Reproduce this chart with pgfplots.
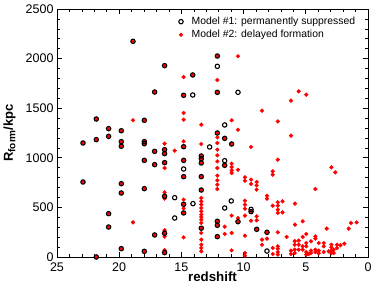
\documentclass[border=0pt]{standalone}
\usepackage{pgfplots}
\pgfplotsset{compat=1.18}
\usepackage{fontspec}
\setmainfont{Liberation Sans}
\begin{document}
\begin{tikzpicture}
\begin{axis}[
 scale only axis, width=311pt, height=248pt,
 xmin=0, xmax=25, ymin=0, ymax=2500, x dir=reverse,
 xtick={0,5,...,25}, ytick={0,500,...,2500},
 minor x tick num=4, minor y tick num=4,
 tick align=inside,
 major tick length=5pt, minor tick length=3pt,
 tick style={black, line width=0.6pt},
 axis line style={line width=0.8pt},
 ticklabel style={font=\fontsize{12.5}{14}\selectfont},
 xticklabel style={yshift=-2.5pt},
 /pgf/number format/assume math mode=true,
 /pgf/number format/1000 sep={},
 xlabel={\textbf{redshift}},
 ylabel={\textbf{R{\fontsize{10}{12}\selectfont\raisebox{-2.6pt}{form}}/kpc}},
 every axis y label/.style={at={(axis description cs:-0.1527,0.5)}, rotate=90, anchor=center, font=\fontsize{13}{15}\selectfont},
 every axis x label/.style={at={(axis description cs:0.5,-0.0806)}, anchor=center, font=\fontsize{13.3}{15}\selectfont},
 legend style={at={(axis description cs:0.391,0.976)}, anchor=north west, draw=none, fill=none,
   font=\fontsize{10.4}{12}\selectfont, inner sep=0pt, row sep=0pt, column sep=6.5pt},
 legend cell align=left,
 clip=false,
]
\addlegendimage{only marks, mark=o, mark size=2.2pt, line width=1.1pt, black}
\addlegendentry{Model \#1: permanently suppressed}
\addlegendimage{only marks, mark=*, mark size=1.9pt, red}
\addlegendentry{Model \#2: delayed formation}

% Model #2 (delayed formation)
\addplot[forget plot, only marks, mark=*, mark size=1.9pt, red] table {
x y
18.89 2174
12.11 2026
16.35 1929
14.09 1835
17.15 1663
14.82 1630
12.11 1660
21.84 1391
17.98 1378
20.85 1294
19.83 1273
12.11 1250
22.91 1149
21.84 1183
20.85 1216
19.83 1163
19.83 1116
17.98 1163
17.98 1142
17.15 1065
16.35 1082
16.35 1042
16.35 951
17.15 931
17.98 974
14.82 1112
14.82 974
14.82 810
13.40 1018
13.40 991
13.40 948
13.40 810
13.40 675
13.40 290
11.52 1196
10.96 1139
11.52 924
22.91 756
19.83 739
19.83 645
17.98 689
20.85 437
20.85 302
19.83 84
17.98 57
21.84 0
17.15 222
16.35 612
16.35 239
16.35 44
14.82 531
14.82 444
12.11 360
12.11 319
12.11 205
10.45 356
9.40 457
8.95 279
8.12 249
18.89 1378
18.89 349
16.35 1142
16.35 897
16.35 652
16.35 588
16.35 270
16.35 205
16.35 70
15.54 1072
14.82 1814
14.82 1452
14.82 1384
14.82 1166
14.82 578
14.82 490
14.82 198
13.40 1334
13.40 1139
13.40 595
13.40 561
13.40 528
13.40 494
13.40 460
13.40 427
13.40 403
13.40 376
13.40 343
13.40 242
13.40 175
13.40 124
13.40 91
13.40 57
12.11 1784
12.11 1206
12.11 1149
12.11 1082
12.11 1025
12.11 964
12.11 897
12.11 820
12.11 773
12.11 729
12.11 685
11.52 306
11.52 232
10.96 1378
10.96 941
10.96 907
10.96 874
10.96 847
10.96 417
10.96 242
10.96 67
10.45 2023
10.45 1283
10.45 880
10.45 393
9.89 803
9.89 769
9.89 568
9.89 528
9.89 487
9.89 417
9.89 215
9.89 40
9.89 13
9.40 1109
9.40 780
9.40 736
9.40 366
8.95 756
8.95 722
8.95 679
8.95 410
8.95 370
8.52 1475
8.52 175
8.52 124
8.12 618
8.12 588
8.12 185
7.66 864
7.66 830
7.66 517
7.66 91
7.66 30
7.25 1367
7.25 981
7.25 551
7.25 517
7.25 477
7.25 444
7.25 249
7.25 108
7.25 84
7.25 50
7.25 24
6.87 561
6.87 450
6.54 202
6.19 1576
6.19 1223
6.19 64
6.19 30
5.87 538
5.87 326
5.89 160
5.89 124
5.89 74
5.89 40
5.57 1670
5.57 165
5.57 124
5.57 74
5.25 360
5.25 202
5.25 108
5.25 74
4.96 1636
4.96 232
4.96 141
4.96 108
4.96 50
4.96 24
4.77 30
4.58 158
4.58 64
4.58 40
4.23 685
4.23 208
4.23 185
4.23 74
4.23 50
3.96 141
3.96 64
3.96 37
3.56 141
3.56 108
3.56 50
3.32 286
3.16 57
2.94 904
2.94 124
2.94 97
2.94 64
2.94 40
2.76 74
2.76 40
2.63 853
2.49 124
2.49 91
2.22 118
1.90 134
1.55 286
1.37 343
0.91 349
};

% Model #1 (permanently suppressed)
\addplot[forget plot, only marks, mark=o, mark size=2.2pt, line width=1.1pt, black] table {
x y
12.11 1922
14.09 1633
10.45 1660
11.52 1331
12.73 1109
11.52 971
14.82 887
15.54 598
14.07 538
15.54 393
10.99 565
11.52 494
9.40 480
8.12 60
18.89 2174
12.11 2026
16.35 1929
14.09 1835
17.15 1663
14.82 1630
12.11 1660
21.84 1391
17.98 1378
20.85 1294
19.83 1273
12.11 1250
22.91 1149
21.84 1183
20.85 1216
19.83 1163
19.83 1116
17.98 1163
17.98 1142
17.15 1065
16.35 1082
16.35 1042
16.35 951
17.15 931
17.98 974
14.82 1112
14.82 974
14.82 810
13.40 1018
13.40 991
13.40 948
13.40 810
13.40 675
13.40 290
11.52 1196
10.96 1139
11.52 924
22.91 756
19.83 739
19.83 645
17.98 689
20.85 437
20.85 302
19.83 84
17.98 57
21.84 0
17.15 222
16.35 612
16.35 239
16.35 44
14.82 531
14.82 444
12.11 360
12.11 319
12.11 205
10.45 356
9.40 457
8.95 279
8.12 249
};
\end{axis}
\pgfresetboundingbox
\path ([xshift=-57pt,yshift=-33pt]current axis.south west) rectangle ([xshift=6pt,yshift=9pt]current axis.north east);
\end{tikzpicture}
\end{document}
